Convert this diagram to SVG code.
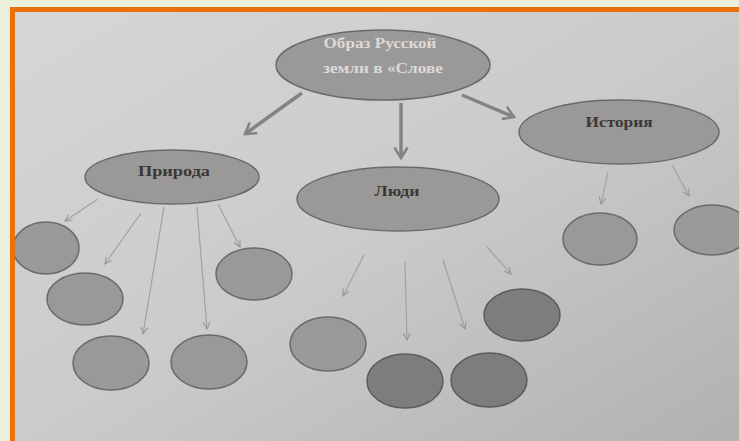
<svg xmlns="http://www.w3.org/2000/svg" width="739" height="441" viewBox="0 0 739 441">
<defs>
<linearGradient id="paper" x1="0" y1="0" x2="1" y2="1">
<stop offset="0" stop-color="#d8d6d4"/>
<stop offset="0.5" stop-color="#cdcbc9"/>
<stop offset="1" stop-color="#b3b1af"/>
</linearGradient>
<marker id="big" viewBox="0 0 12 12" refX="10" refY="6" markerWidth="4.5" markerHeight="4.5" orient="auto" markerUnits="strokeWidth">
<path d="M2,1 L10,6 L2,11" fill="none" stroke="#858381" stroke-width="2"/>
</marker>
<marker id="small" viewBox="0 0 10 10" refX="9" refY="5" markerWidth="7" markerHeight="7" orient="auto" markerUnits="strokeWidth">
<path d="M1,1 L9,5 L1,9" fill="none" stroke="#999795" stroke-width="1.3"/>
</marker>
</defs>
<style>
.node{fill:#9b9997;stroke:#6c6a68;stroke-width:1.5}
.dark{fill:#7f7d7b;stroke:#5e5c5a;stroke-width:1.5}
.lbl{font-family:"Liberation Serif","DejaVu Serif",serif;font-weight:bold;font-size:15px;fill:#3a3836;text-anchor:middle}
.top{font-family:"Liberation Serif","DejaVu Serif",serif;font-weight:bold;font-size:15px;fill:#dcdad8;text-anchor:middle}
.thick{stroke:#858381;stroke-width:3.5;fill:none;marker-end:url(#big)}
.thin{stroke:#a3a19f;stroke-width:1.2;fill:none;marker-end:url(#small)}
</style>
<rect x="0" y="0" width="739" height="441" fill="#ecefdc"/>
<rect x="15" y="12" width="724" height="429" fill="url(#paper)"/>
<rect x="10" y="7" width="729" height="5" fill="#e8700f"/>

<g id="connectors">
<line class="thick" x1="302" y1="93" x2="245" y2="134"/>
<line class="thick" x1="401" y1="103" x2="401" y2="158"/>
<line class="thick" x1="462" y1="95" x2="514" y2="117"/>
<line class="thin" x1="98" y1="199" x2="65" y2="221"/>
<line class="thin" x1="141" y1="213" x2="105" y2="264"/>
<line class="thin" x1="164" y1="207" x2="143" y2="334"/>
<line class="thin" x1="197" y1="207" x2="207" y2="329"/>
<line class="thin" x1="218" y1="204" x2="240" y2="247"/>
<line class="thin" x1="364" y1="255" x2="343" y2="296"/>
<line class="thin" x1="405" y1="262" x2="407" y2="340"/>
<line class="thin" x1="443" y1="260" x2="465" y2="329"/>
<line class="thin" x1="487" y1="247" x2="511" y2="274"/>
<line class="thin" x1="608" y1="172" x2="601" y2="204"/>
<line class="thin" x1="672" y1="165" x2="689" y2="196"/>
</g>

<g id="root">
<ellipse class="node" cx="383" cy="65" rx="107" ry="35"/>
<text class="top" x="380" y="48" textLength="113" lengthAdjust="spacingAndGlyphs">Образ Русской</text>
<text class="top" x="383" y="73" textLength="120" lengthAdjust="spacingAndGlyphs">земли в «Слове</text>
</g>
<g id="priroda">
<ellipse class="node" cx="172" cy="177" rx="87" ry="27"/>
<text class="lbl" x="174" y="176" textLength="72" lengthAdjust="spacingAndGlyphs">Природа</text>
</g>
<g id="lyudi">
<ellipse class="node" cx="398" cy="199" rx="101" ry="32"/>
<text class="lbl" x="397" y="196" textLength="45" lengthAdjust="spacingAndGlyphs">Люди</text>
</g>
<g id="istoriya">
<ellipse class="node" cx="619" cy="132" rx="100" ry="32"/>
<text class="lbl" x="619" y="127" textLength="67" lengthAdjust="spacingAndGlyphs">История</text>
</g>

<g id="p1"><ellipse class="node" cx="46" cy="248" rx="33" ry="26"/></g>
<g id="p2"><ellipse class="node" cx="85" cy="299" rx="38" ry="26"/></g>
<g id="p3"><ellipse class="node" cx="111" cy="363" rx="38" ry="27"/></g>
<g id="p4"><ellipse class="node" cx="209" cy="362" rx="38" ry="27"/></g>
<g id="p5"><ellipse class="node" cx="254" cy="274" rx="38" ry="26"/></g>
<g id="l1"><ellipse class="node" cx="328" cy="344" rx="38" ry="27"/></g>
<g id="l2"><ellipse class="dark" cx="405" cy="381" rx="38" ry="27"/></g>
<g id="l3"><ellipse class="dark" cx="489" cy="380" rx="38" ry="27"/></g>
<g id="l4"><ellipse class="dark" cx="522" cy="315" rx="38" ry="26"/></g>
<g id="i1"><ellipse class="node" cx="600" cy="239" rx="37" ry="26"/></g>
<g id="i2"><ellipse class="node" cx="712" cy="230" rx="38" ry="25"/></g>
<rect x="10" y="7" width="5" height="434" fill="#e8700f"/>
</svg>
